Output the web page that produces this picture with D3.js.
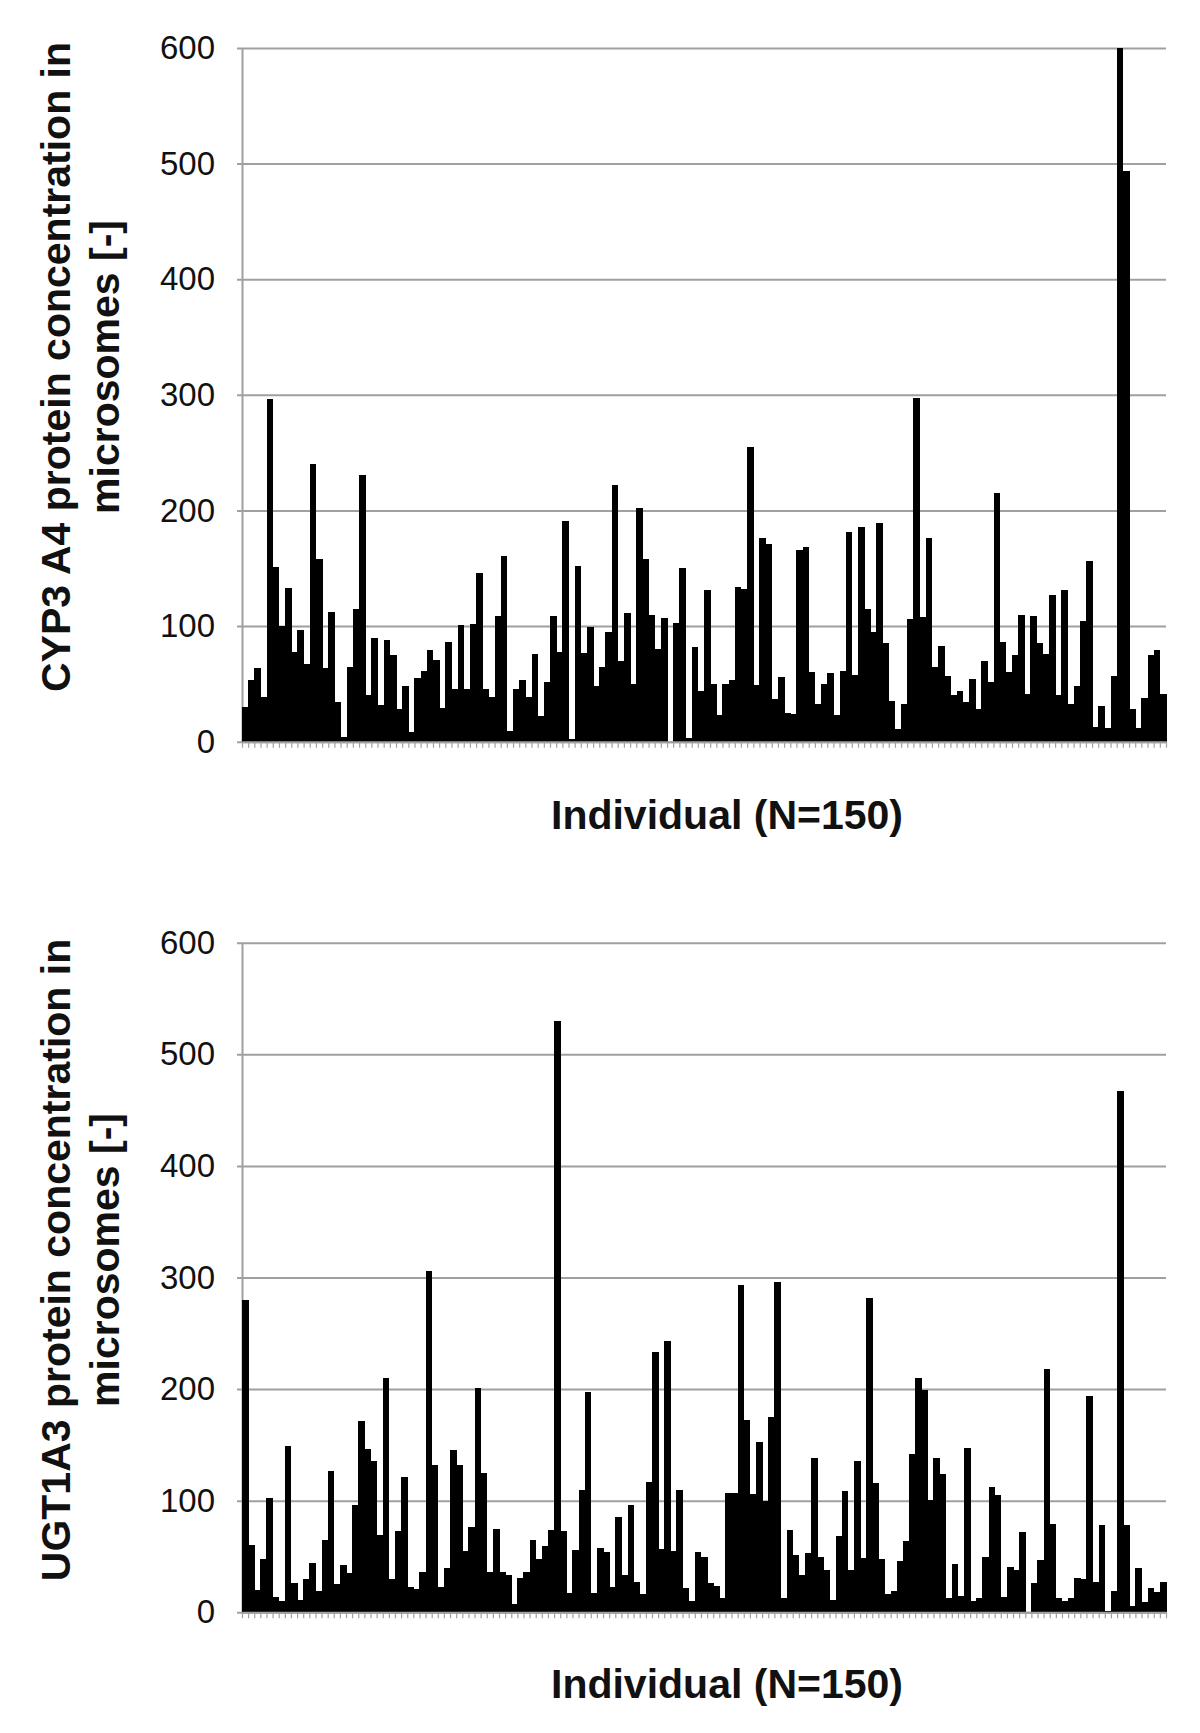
<!DOCTYPE html>
<html><head><meta charset="utf-8">
<script src="https://cdn.jsdelivr.net/npm/d3@7"></script>
<style>body{margin:0;background:#fff} svg{display:block}</style>
</head><body>
<script>
// CYP3A4 protein concentration per individual (top panel)
const cyp3a4Values = [
  30,53,64,39,296,151,100,133,78,97,67,240,158,64,112,34,4,65,115,231,40,90,32,88,75,
  28,48,8,55,61,79,71,29,86,46,101,46,102,146,46,39,109,161,9,46,53,39,76,22,52,
  109,78,191,2,152,77,99,48,65,95,222,70,111,50,202,158,110,80,107,0,103,150,3,82,44,
  131,50,23,50,53,134,132,255,49,176,171,37,56,25,24,166,168,60,33,50,59,23,61,181,58,
  186,115,95,189,85,35,11,33,106,297,108,176,65,83,57,40,44,34,54,28,70,52,215,86,60,
  75,110,41,109,85,76,127,40,131,33,48,104,156,13,31,12,57,600,494,28,12,38,75,79,41
];
// UGT1A3 protein concentration per individual (bottom panel)
const ugt1a3Values = [
  280,60,20,48,102,14,10,149,26,11,30,44,19,65,127,25,42,35,96,171,146,136,69,210,30,
  73,121,23,21,36,306,132,23,40,145,132,55,76,201,125,36,75,36,33,7,31,36,65,48,59,
  74,530,73,17,56,110,197,17,58,54,23,85,33,96,27,16,117,233,57,243,55,110,22,10,54,50,
  26,24,13,107,107,293,172,106,153,100,175,296,13,74,51,33,53,138,50,38,11,68,109,38,136,
  49,282,116,48,16,19,46,64,142,210,199,101,138,124,13,43,15,147,10,13,50,112,105,14,41,38,
  72,0,26,47,218,79,13,10,13,31,30,194,27,78,1,19,467,78,6,40,9,22,18,27
];
const yTicks = [0,100,200,300,400,500,600];
const cypLabel = ["CYP3 A4 protein concentration in", "microsomes [-]"];
const ugtLabel = ["UGT1A3 protein concentration in", "microsomes [-]"];
const xLabel = "Individual (N=150)";

const FONT = "'Liberation Sans', Arial, Helvetica, sans-serif";
const GRID = "#a0a0a0";

const svg = d3.select("body").append("svg")
  .attr("width", 1200).attr("height", 1733)
  .style("font-family", FONT);

function drawChart(values, labelLines, cfg) {
  const n = values.length;
  const x = d3.scaleBand().domain(d3.range(n)).range([cfg.left, cfg.right]).padding(0);
  const xb = d3.scaleLinear().domain([0, n]).range([cfg.left, cfg.right]);
  const y = d3.scaleLinear().domain([0, 600]).range([cfg.base, cfg.top]);
  const g = svg.append("g");

  // y axis with gridlines
  const yAxis = d3.axisLeft(y).tickValues(yTicks).tickSizeInner(-(cfg.right - cfg.left)).tickSizeOuter(0).tickPadding(27);
  const ya = g.append("g").attr("transform", `translate(${cfg.left},0)`).call(yAxis);
  ya.select(".domain").attr("stroke", GRID).attr("stroke-width", 2);
  ya.selectAll(".tick line").attr("stroke", GRID).attr("stroke-width", 2).attr("x1", -5);
  ya.selectAll(".tick text").attr("font-size", 33).attr("fill", "#111").attr("font-family", FONT);

  // bars
  g.append("g").attr("shape-rendering", "crispEdges")
    .selectAll("rect").data(values).join("rect")
    .attr("x", (d, i) => x(i))
    .attr("width", x.bandwidth() + 0.5)
    .attr("y", d => y(d))
    .attr("height", d => y(0) - y(d))
    .attr("fill", "#000");

  // x axis with ticks at category boundaries
  const xAxis = d3.axisBottom(xb).tickValues(d3.range(n + 1)).tickFormat("").tickSizeInner(6).tickSizeOuter(0);
  const xa = g.append("g").attr("transform", `translate(0,${cfg.base})`).call(xAxis);
  xa.select(".domain").attr("stroke", GRID).attr("stroke-width", 2);
  xa.selectAll(".tick line").attr("stroke", GRID).attr("stroke-width", 1.2);

  // x label
  g.append("text").attr("x", cfg.xLabelX).attr("y", cfg.xLabelY)
    .attr("text-anchor", "middle").attr("font-size", 41).attr("font-weight", "bold")
    .attr("fill", "#111").text(xLabel);

  // y label (two lines, rotated)
  const yl = g.append("text")
    .attr("transform", `translate(${cfg.yLabelX},${cfg.yLabelCY}) rotate(-90)`)
    .attr("text-anchor", "middle").attr("font-size", 41).attr("font-weight", "bold").attr("fill", "#111");
  labelLines.forEach((t, i) => {
    yl.append("tspan").attr("x", 0).attr("y", i * 49).text(t);
  });
}

drawChart(cyp3a4Values, cypLabel, {
  left: 242, right: 1166, top: 48, base: 741.7,
  xLabelX: 727, xLabelY: 829, yLabelX: 70, yLabelCY: 367
});
drawChart(ugt1a3Values, ugtLabel, {
  left: 242, right: 1166, top: 942.7, base: 1612.3,
  xLabelX: 727, xLabelY: 1698, yLabelX: 70, yLabelCY: 1260
});
</script>
</body></html>
